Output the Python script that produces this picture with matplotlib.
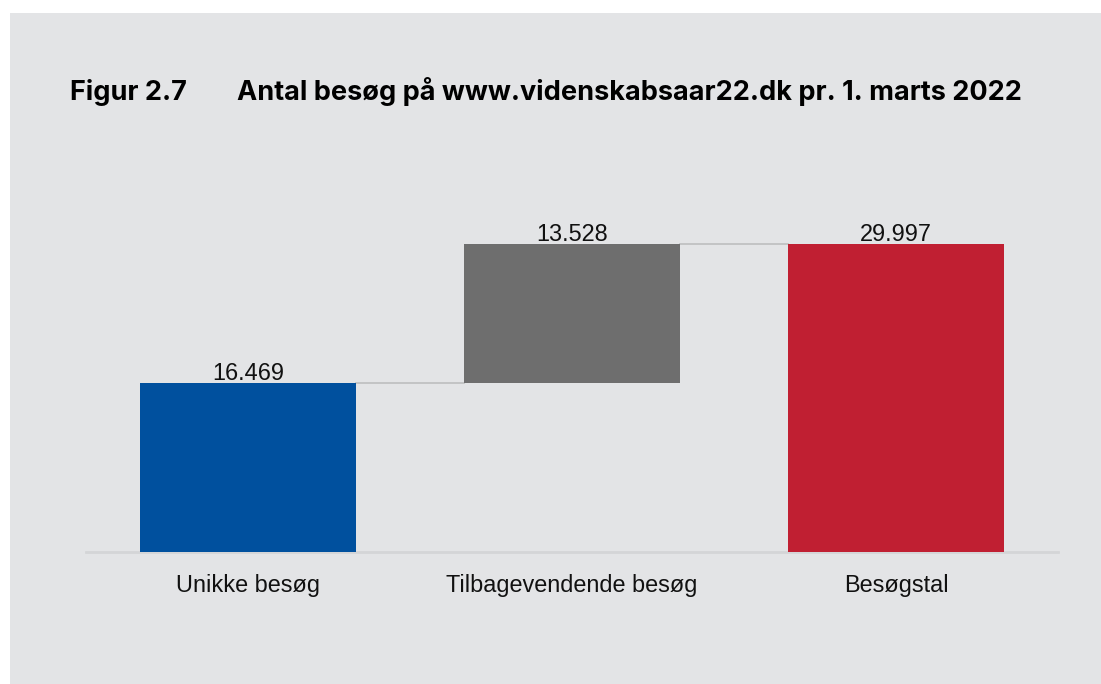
import matplotlib.pyplot as plt
import numpy as np
from matplotlib.patches import Rectangle

# Data
categories = ["Unikke besøg", "Tilbagevendende besøg", "Besøgstal"]
values = [16469, 13528, 29997]
value_labels = ["16.469", "13.528", "29.997"]
is_total = [False, False, True]

bar_colors = ["#00509e", "#6e6e6e", "#c01f32"]
bg = "#e3e4e6"

# waterfall bottoms
bottoms = []
running = 0
for v, tot in zip(values, is_total):
    if tot:
        bottoms.append(0)
        running = v
    else:
        bottoms.append(running)
        running += v
tops = [b + v for b, v in zip(bottoms, values)]

W, H = 1101, 684
fig = plt.figure(figsize=(W / 100, H / 100), dpi=100)
fig.patch.set_facecolor("white")
# grey panel with small white margins at top and left
fig.patches.append(Rectangle((10 / W, 0), 1 - 10 / W, 1 - 13 / H,
                             transform=fig.transFigure, facecolor=bg,
                             edgecolor="none", zorder=-5))

ax = fig.add_axes([86 / W, 1 - 552 / H, (1058 - 86) / W, (552 - 200) / H])
ax.set_facecolor("none")

x = np.arange(len(categories))
bw = 0.664
ax.bar(x, values, bottom=bottoms, width=bw, color=bar_colors, zorder=3)

# connector lines between bars
for i in range(len(x) - 1):
    ax.plot([x[i] + bw / 2, x[i + 1] - bw / 2], [tops[i], tops[i]],
            color="#c0c1c2", lw=1.3, zorder=2)

for xi, t, lab in zip(x, tops, value_labels):
    ax.annotate(lab, (xi, t), xytext=(0, 2.5), textcoords="offset points",
                ha="center", va="baseline", fontsize=16.9,
                family="Liberation Sans", color="#111111")

ax.set_xlim(-0.5, 2.5)
ax.set_ylim(0, 34300)
ax.set_yticks([])
ax.set_xticks(x)
ax.set_xticklabels(categories, fontsize=16.9, family="Liberation Sans", color="#111111")
ax.tick_params(axis="x", length=0, pad=16)
for s in ["top", "left", "right"]:
    ax.spines[s].set_visible(False)
ax.spines["bottom"].set_color("#d4d5d7")
ax.spines["bottom"].set_linewidth(2)

fig.text(70 / W, 1 - 100 / H, "Figur 2.7", fontsize=19.5, fontweight="bold",
         family="Inter", va="baseline", ha="left", color="#000000")
fig.text(237 / W, 1 - 100 / H, "Antal besøg på www.videnskabsaar22.dk pr. 1. marts 2022",
         fontsize=19.5, fontweight="bold", family="Inter", va="baseline", ha="left",
         color="#000000")

fig.savefig("out.png", dpi=100, facecolor=fig.get_facecolor())
